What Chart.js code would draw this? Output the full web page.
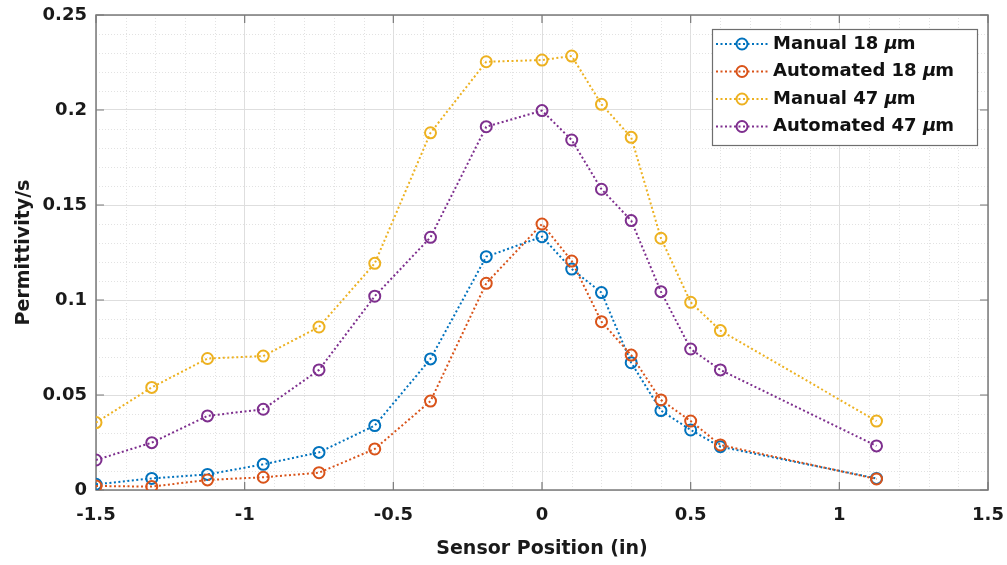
<!DOCTYPE html>
<html>
<head>
<meta charset="utf-8">
<script src="https://cdn.jsdelivr.net/npm/chart.js@4/dist/chart.umd.min.js"></script>
<style>
  html, body { margin: 0; padding: 0; background: #fff; }
  #wrap { width: 1007px; height: 565px; }
</style>
</head>
<body>
<div id="wrap"><canvas id="sensorChart" width="1007" height="565"></canvas></div>
<script>
// sensor positions along the strip (inches)
const positions = [-1.5, -1.3125, -1.125, -0.9375, -0.75, -0.5625, -0.375, -0.1875, 0, 0.1, 0.2, 0.3, 0.4, 0.5, 0.6, 1.125];

// permittivity rate for each sample
const manual18 = [0.003, 0.0061, 0.0082, 0.0135, 0.0198, 0.0339, 0.069, 0.1228, 0.1333, 0.1163, 0.1039, 0.067, 0.0418, 0.0316, 0.0228, 0.0061];
const automated18 = [0.0021, 0.0018, 0.0053, 0.0067, 0.0091, 0.0216, 0.0468, 0.1088, 0.14, 0.1205, 0.0886, 0.071, 0.0474, 0.0363, 0.0237, 0.0058];
const manual47 = [0.0355, 0.054, 0.0692, 0.0705, 0.0858, 0.1193, 0.188, 0.2254, 0.2263, 0.2284, 0.203, 0.1856, 0.1325, 0.0988, 0.0839, 0.0363];
const automated47 = [0.0158, 0.0249, 0.039, 0.0425, 0.0632, 0.102, 0.133, 0.1912, 0.1997, 0.1842, 0.1583, 0.1418, 0.1044, 0.0742, 0.0632, 0.0232];

const seriesNames = ['Manual 18', 'Automated 18', 'Manual 47', 'Automated 47'];
const seriesColors = ['#0072BD', '#D95319', '#EDB120', '#7E2F8E'];

// axis ticks
const xTicks = [-1.5, -1, -0.5, 0, 0.5, 1, 1.5];
const xTickLabels = ['-1.5', '-1', '-0.5', '0', '0.5', '1', '1.5'];
const yTicks = [0, 0.05, 0.1, 0.15, 0.2, 0.25];
const yTickLabels = ['0', '0.05', '0.1', '0.15', '0.2', '0.25'];

const FONT = "'DejaVu Sans', 'Liberation Sans', Arial, sans-serif";

function toPoints(ys) {
  return positions.map((x, i) => ({ x: x, y: ys[i] }));
}

const allSeries = [manual18, automated18, manual47, automated47];

const datasets = allSeries.map((ys, i) => ({
  label: seriesNames[i],
  data: toPoints(ys),
  borderColor: seriesColors[i],
  backgroundColor: 'rgba(0,0,0,0)',
  borderWidth: 2,
  borderDash: [2, 2.5],
  pointStyle: 'circle',
  pointRadius: 5.5,
  pointBorderWidth: 2,
  pointBackgroundColor: 'rgba(0,0,0,0)',
  pointBorderColor: seriesColors[i],
  tension: 0,
  order: allSeries.length - 1 - i
}));

// dotted minor grid, every 0.1 in x and 0.01 in y
const minorGrid = {
  id: 'minorGrid',
  beforeDatasetsDraw(chart) {
    const { ctx, chartArea: a, scales: { x, y } } = chart;
    ctx.save();
    ctx.strokeStyle = '#e2e2e2';
    ctx.lineWidth = 1;
    ctx.setLineDash([1, 2]);
    for (let k = -15; k <= 15; k++) {
      if (k % 5 === 0) continue;
      const px = Math.round(x.getPixelForValue(k / 10)) + 0.5;
      ctx.beginPath(); ctx.moveTo(px, a.top); ctx.lineTo(px, a.bottom); ctx.stroke();
    }
    for (let k = 0; k <= 25; k++) {
      if (k % 5 === 0) continue;
      const py = Math.round(y.getPixelForValue(k / 100)) + 0.5;
      ctx.beginPath(); ctx.moveTo(a.left, py); ctx.lineTo(a.right, py); ctx.stroke();
    }
    ctx.restore();

    // axes box with inward ticks on all four sides
    ctx.save();
    ctx.strokeStyle = '#7a7a7a';
    ctx.lineWidth = 1.5;
    ctx.strokeRect(a.left, a.top, a.right - a.left, a.bottom - a.top);
    ctx.lineWidth = 1.2;
    ctx.beginPath();
    xTicks.forEach(v => {
      const px = x.getPixelForValue(v);
      ctx.moveTo(px, a.bottom); ctx.lineTo(px, a.bottom - 8);
      ctx.moveTo(px, a.top); ctx.lineTo(px, a.top + 8);
    });
    yTicks.forEach(v => {
      const py = y.getPixelForValue(v);
      ctx.moveTo(a.left, py); ctx.lineTo(a.left + 8, py);
      ctx.moveTo(a.right, py); ctx.lineTo(a.right - 8, py);
    });
    ctx.stroke();
    ctx.restore();
  }
};

// boxed legend in the upper right corner
const boxLegend = {
  id: 'boxLegend',
  afterDraw(chart) {
    const { ctx } = chart;
    const left = 712, top = 29, w = 265, h = 116;
    ctx.save();
    ctx.fillStyle = '#ffffff';
    ctx.fillRect(left, top, w, h);
    ctx.strokeStyle = '#6e6e6e';
    ctx.lineWidth = 1.2;
    ctx.strokeRect(left + 0.5, top + 0.5, w, h);
    chart.data.datasets.forEach((ds, i) => {
      const cy = top + 15 + i * 27.5;
      ctx.strokeStyle = ds.borderColor;
      ctx.lineWidth = 2;
      ctx.setLineDash([2, 2.5]);
      ctx.beginPath(); ctx.moveTo(716, cy); ctx.lineTo(768, cy); ctx.stroke();
      ctx.setLineDash([]);
      ctx.beginPath(); ctx.arc(742, cy, 5.5, 0, Math.PI * 2); ctx.stroke();
      ctx.fillStyle = '#111';
      ctx.textBaseline = 'middle';
      ctx.font = 'bold 18px ' + FONT;
      const txt = ds.label + ' ';
      ctx.fillText(txt, 773, cy);
      let tx = 773 + ctx.measureText(txt).width;
      ctx.font = 'italic bold 18px ' + FONT;
      ctx.fillText('\u00b5', tx, cy);
      tx += ctx.measureText('\u00b5').width - 1;
      ctx.font = 'bold 18px ' + FONT;
      ctx.fillText('m', tx, cy);
    });
    ctx.restore();
  }
};

Chart.defaults.font.family = FONT;
Chart.defaults.color = '#1a1a1a';

new Chart(document.getElementById('sensorChart'), {
  type: 'line',
  data: { datasets: datasets },
  options: {
    responsive: false,
    animation: false,
    layout: { padding: { top: 15, right: 19, left: 0, bottom: 0 } },
    plugins: {
      legend: { display: false },
      tooltip: { enabled: false }
    },
    scales: {
      x: {
        type: 'linear',
        min: -1.5,
        max: 1.5,
        afterBuildTicks(scale) { scale.ticks = xTicks.map(v => ({ value: v })); },
        afterFit(scale) {
          scale.height = 75;
          scale.paddingLeft = 0;
          scale.paddingRight = 0;
        },
        ticks: {
          padding: 15,
          font: { size: 18, weight: 'bold' },
          color: '#1a1a1a',
          maxRotation: 0,
          callback(value) { const k = xTicks.indexOf(value); return k >= 0 ? xTickLabels[k] : ''; }
        },
        grid: { color: '#dedede', lineWidth: 1, drawTicks: false },
        border: { display: false },
        title: {
          display: true,
          text: 'Sensor Position (in)',
          font: { size: 19, weight: 'bold' },
          color: '#1a1a1a',
          padding: { top: 0, bottom: 5 }
        }
      },
      y: {
        type: 'linear',
        min: 0,
        max: 0.25,
        afterBuildTicks(scale) { scale.ticks = yTicks.map(v => ({ value: v })); },
        afterFit(scale) {
          scale.width = 96;
          scale.paddingTop = 0;
          scale.paddingBottom = 0;
        },
        ticks: {
          padding: 9,
          font: { size: 18, weight: 'bold' },
          color: '#1a1a1a',
          callback(value) { const k = yTicks.indexOf(value); return k >= 0 ? yTickLabels[k] : ''; }
        },
        grid: { color: '#dedede', lineWidth: 1, drawTicks: false },
        border: { display: false },
        title: {
          display: true,
          text: 'Permittivity/s',
          font: { size: 19, weight: 'bold' },
          color: '#1a1a1a',
          padding: { top: 13, bottom: 0 }
        }
      }
    }
  },
  plugins: [minorGrid, boxLegend]
});
</script>
</body>
</html>
